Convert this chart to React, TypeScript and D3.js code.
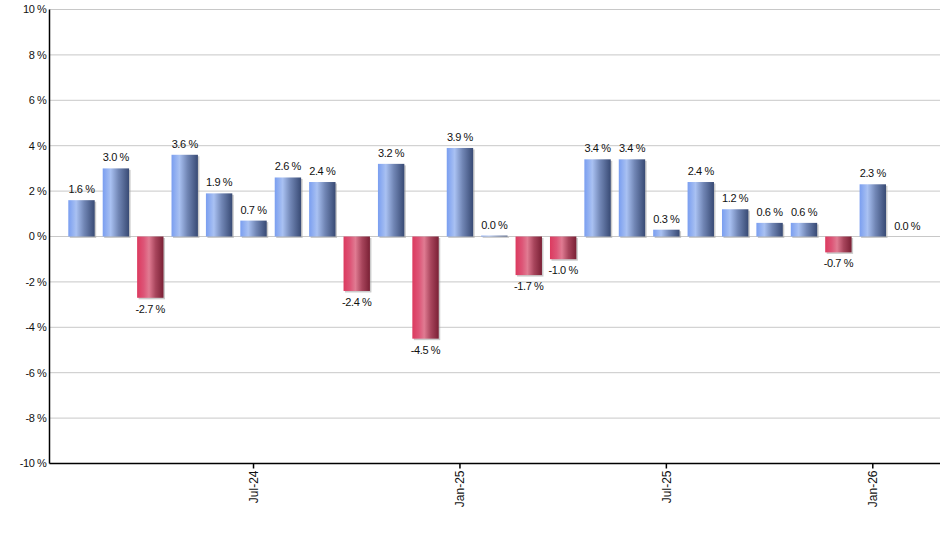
import React from "react";
import * as d3 from "d3";

const months = [
  "Feb-24","Mar-24","Apr-24","May-24","Jun-24","Jul-24","Aug-24","Sep-24","Oct-24","Nov-24","Dec-24",
  "Jan-25","Feb-25","Mar-25","Apr-25","May-25","Jun-25","Jul-25","Aug-25","Sep-25","Oct-25","Nov-25","Dec-25",
  "Jan-26","Feb-26",
];
const values = [
  1.6, 3.0, -2.7, 3.6, 1.9, 0.7, 2.6, 2.4, -2.4, 3.2, -4.5,
  3.9, 0.04, -1.7, -1.0, 3.4, 3.4, 0.3, 2.4, 1.2, 0.6, 0.6, -0.7,
  2.3, 0.0,
];
const xTickLabels = ["Jul-24", "Jan-25", "Jul-25", "Jan-26"];
const yTicks = [-10, -8, -6, -4, -2, 0, 2, 4, 6, 8, 10];

const W = 940;
const H = 550;
const left = 49.5;
const right = 940;
const top = 9.5;
const bottom = 463.5;
const font = "'Liberation Sans', Arial, sans-serif";

export default function App() {
  const x = d3
    .scaleBand<string>()
    .domain(months)
    .range([64.3, 924.4])
    .paddingInner(0.233)
    .paddingOuter(0.1165);
  const y = d3.scaleLinear().domain([-10, 10]).range([bottom, top]);
  const y0 = y(0);
  const bw = x.bandwidth();

  return (
    <svg width={W} height={H} style={{ position: "absolute", left: 0, top: 0, background: "#fff" }}>
      <defs>
        <linearGradient id="gBlue" x1="0" x2="1" y1="0" y2="0">
          <stop offset="0" stopColor="#7a9ef0" />
          <stop offset="0.3" stopColor="#a9c1f2" />
          <stop offset="0.6" stopColor="#7186b5" />
          <stop offset="1" stopColor="#384a74" />
        </linearGradient>
        <linearGradient id="gRed" x1="0" x2="1" y1="0" y2="0">
          <stop offset="0" stopColor="#dc3a5f" />
          <stop offset="0.25" stopColor="#dd5577" />
          <stop offset="0.45" stopColor="#e07b92" />
          <stop offset="0.7" stopColor="#a8455c" />
          <stop offset="1" stopColor="#7a2035" />
        </linearGradient>
      </defs>
      {yTicks.map((t) => (
        <g key={t}>
          <line x1={left} x2={right} y1={y(t)} y2={y(t)} stroke="#c8c8c8" strokeWidth={1} />
          <text
            x={46.5}
            y={y(t)}
            dy="0.35em"
            textAnchor="end"
            fontFamily={font}
            fontSize={11}
            letterSpacing={-0.4}
            fill="#111"
          >
            {`${t} %`}
          </text>
        </g>
      ))}
      {months.map((m, i) => {
        const v = values[i];
        const bx = x(m)!;
        const yTop = Math.min(y(v), y0);
        const h = Math.abs(y(v) - y0);
        return (
          <g key={m}>
            {h > 0 && (
              <rect x={bx + 1.5} y={yTop + 1.5} width={bw} height={h} fill="#a0a0a0" opacity={0.55} />
            )}
            {h > 0 && (
              <rect x={bx} y={yTop} width={bw} height={h} fill={v >= 0 ? "url(#gBlue)" : "url(#gRed)"} />
            )}
          </g>
        );
      })}
      {months.map((m, i) => {
        const v = values[i];
        const cx = x(m)! + bw / 2;
        const ly = v >= 0 ? y(v) - 7 : y(v) + 15;
        return (
          <text
            key={m}
            x={cx}
            y={ly}
            textAnchor="middle"
            fontFamily={font}
            fontSize={11}
            letterSpacing={-0.4}
            fill="#111"
          >
            {`${v.toFixed(1)} %`}
          </text>
        );
      })}
      <line x1={left} x2={left} y1={top} y2={bottom} stroke="#000" strokeWidth={1.5} />
      <line x1={left} x2={right} y1={bottom} y2={bottom} stroke="#000" strokeWidth={1.5} />
      {xTickLabels.map((m) => {
        const cx = x(m)! + bw / 2;
        return (
          <g key={m}>
            <line x1={cx} x2={cx} y1={bottom} y2={bottom + 5} stroke="#000" strokeWidth={1.5} />
            <text
              transform={`translate(${cx},${bottom + 7}) rotate(-90)`}
              textAnchor="end"
              dy="0.35em"
              fontFamily={font}
              fontSize={12}
              fill="#111"
            >
              {m}
            </text>
          </g>
        );
      })}
    </svg>
  );
}
